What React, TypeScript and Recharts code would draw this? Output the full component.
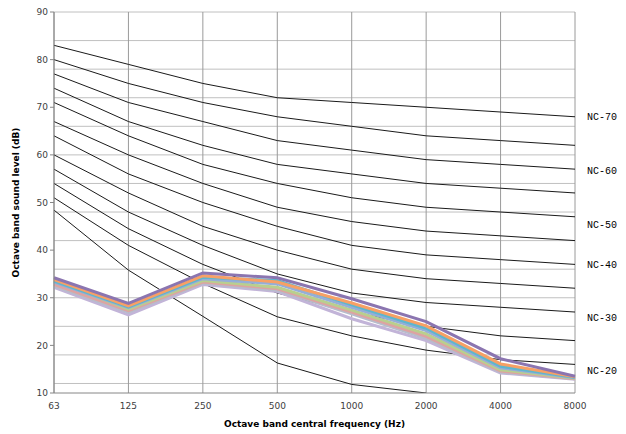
import {
  CartesianGrid,
  Line,
  LineChart,
  ReferenceDot,
  XAxis,
  YAxis
} from "recharts";

const FREQS = ["63", "125", "250", "500", "1000", "2000", "4000", "8000"];

// NC reference curves (dB per octave band)
const NC15 = [48.4, 35.8, 26.1, 16.3, 11.8, 10, null, null];
const NC20 = [51, 41, 33, 26, 22, 19, 17, 16];
const NC25 = [54, 44.5, 37, 31, 27, 24, 22, 21];
const NC30 = [57, 48, 41, 35, 31, 29, 28, 27];
const NC35 = [60, 52, 45, 40, 36, 34, 33, 32];
const NC40 = [64, 56, 50, 45, 41, 39, 38, 37];
const NC45 = [67, 60, 54, 49, 46, 44, 43, 42];
const NC50 = [71, 64, 58, 54, 51, 49, 48, 47];
const NC55 = [74, 67, 62, 58, 56, 54, 53, 52];
const NC60 = [77, 71, 67, 63, 61, 59, 58, 57];
const NC65 = [80, 75, 71, 68, 66, 64, 63, 62];
const NC70 = [83, 79, 75, 72, 71, 70, 69, 68];

// measured spectra
const S1 = [34.2, 28.8, 35.2, 34.2, 29.8, 25, 17.2, 13.5];
const S2 = [33.8, 28.3, 34.6, 33.3, 28.9, 24.1, 16.1, 13.4];
const S3 = [33.5, 28.1, 34.3, 33.6, 28.5, 23.6, 15.6, 13.3];
const S4 = [33.3, 27.9, 34, 32.9, 28, 23.1, 15.3, 13.2];
const S5 = [33.6, 27.6, 33.6, 32.2, 27.4, 22.4, 14.9, 13.1];
const S6 = [32.8, 27.3, 33.3, 31.9, 27, 21.9, 14.6, 13];
const S7 = [32.5, 27, 33.1, 31.6, 26.6, 21.5, 14.4, 13];
const S8 = [32.2, 26.4, 32.8, 31.3, 25.6, 21, 14.2, 12.9];

const NC_LINES = [NC15, NC20, NC25, NC30, NC35, NC40, NC45, NC50, NC55, NC60, NC65, NC70];
const SPECTRA = [S1, S2, S3, S4, S5, S6, S7, S8];
const SPECTRA_COLORS = ["#8B75B0", "#F7A065", "#5EB6CF", "#95AED8", "#B9CF8E", "#DDA3A2", "#B7BCCB", "#C2B4D8"];

const NC_LABELS = ["NC-70", "NC-60", "NC-50", "NC-40", "NC-30", "NC-20"];
const NC_LABEL_Y = [68, 56.8, 45.4, 37, 25.8, 14.8];

const Y_TICKS = [10, 20, 30, 40, 50, 60, 70, 80, 90];
const GRID_Y = [10, 12, 14, 16, 18, 20, 22, 24, 26, 28, 30, 32, 34, 36, 38, 40, 42, 44, 46, 48, 50, 52, 54, 56, 58, 60, 62, 64, 66, 68, 70, 72, 74, 76, 78, 80, 82, 84, 86, 88, 90];

const data = FREQS.map((f, i) => {
  const row: any = { freq: f };
  NC_LINES.forEach((s, k) => (row["nc" + k] = s[i]));
  SPECTRA.forEach((s, k) => (row["s" + k] = s[i]));
  return row;
});

const tickStyle = { fontFamily: "DejaVu Sans", fontSize: 9, fill: "#404040" };

const App = () => {
  return (
    <div style={{ position: "absolute", left: 0, top: 0, background: "#fff" }}>
      <LineChart
        width={626}
        height={434}
        data={data}
        margin={{ top: 12, right: 51, bottom: 1, left: 0 }}
      >
        <CartesianGrid stroke="#c0c0c0" horizontalValues={GRID_Y} vertical={false} />
        <CartesianGrid stroke="#9a9a9a" horizontal={false} />
        <XAxis
          dataKey="freq"
          height={40}
          stroke="#868686"
          tick={tickStyle}
          tickLine={false}
          tickMargin={4}
          label={{
            value: "Octave band central frequency (Hz)",
            position: "insideBottom",
            offset: 6,
            style: { fontFamily: "DejaVu Sans", fontSize: 9, fontWeight: "bold", fill: "#000" }
          }}
        />
        <YAxis
          width={54}
          domain={[10, 90]}
          ticks={Y_TICKS}
          allowDataOverflow
          stroke="#868686"
          tick={tickStyle}
          tickSize={4}
          label={{
            value: "Octave band sound level (dB)",
            angle: -90,
            position: "insideLeft",
            offset: 16,
            style: { textAnchor: "middle", fontFamily: "DejaVu Sans", fontSize: 9, fontWeight: "bold", fill: "#000" }
          }}
        />
        {NC_LINES.map((_, k) => (
          <Line
            key={"nc" + k}
            dataKey={"nc" + k}
            type="linear"
            stroke="#1a1a1a"
            strokeWidth={1}
            dot={false}
            activeDot={false}
            isAnimationActive={false}
          />
        ))}
        {SPECTRA.map((_, k) => SPECTRA.length - 1 - k).map((k) => (
          <Line
            key={"s" + k}
            dataKey={"s" + k}
            type="linear"
            stroke={SPECTRA_COLORS[k]}
            strokeWidth={3}
            dot={false}
            activeDot={false}
            isAnimationActive={false}
          />
        ))}
        {NC_LABELS.map((lab, i) => (
          <ReferenceDot
            key={lab}
            x="8000"
            y={NC_LABEL_Y[i]}
            r={0}
            ifOverflow="visible"
            label={{
              value: lab,
              position: "right",
              offset: 12,
              style: { fontFamily: "Liberation Mono", fontSize: 10, fill: "#000" }
            }}
          />
        ))}
      </LineChart>
    </div>
  );
};

export default App;
